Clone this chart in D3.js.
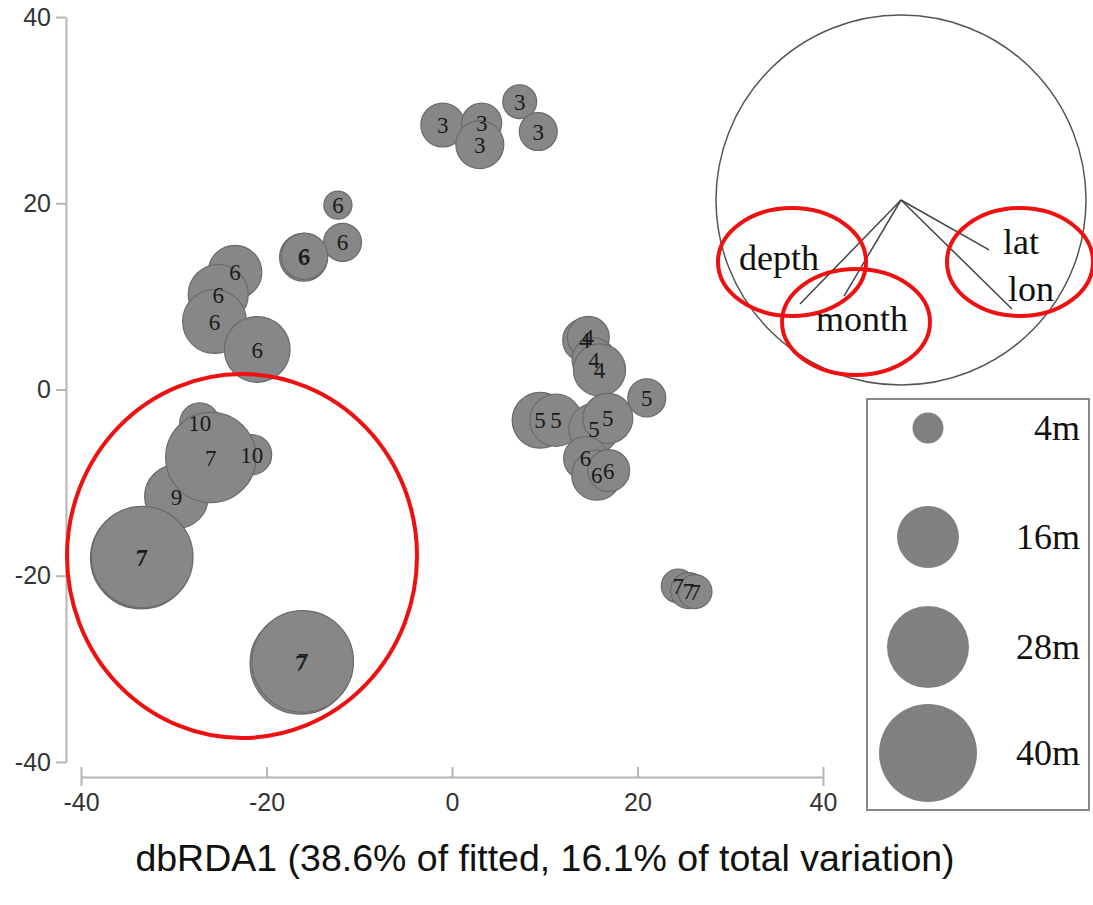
<!DOCTYPE html>
<html>
<head>
<meta charset="utf-8">
<script src="https://cdn.jsdelivr.net/npm/d3@7"></script>
<style>
  html, body { margin: 0; padding: 0; background: #fff; }
  svg { display: block; }
</style>
</head>
<body>
<svg id="chart" width="1093" height="905"></svg>
<script>
// ---------------- data ----------------
const monthLabels = ["3","3","3","3","3",
  "6","6","6","6","6","6","6","6",
  "4","4","4","4",
  "5","5","5","5","5",
  "6","6","6",
  "7","7","7",
  "10","10","9","7","7","7","7","7"];
const dbRDA1 = [-1.0, 3.2, 3.0, 7.3, 9.3,
  -12.3, -11.8, -16.0, -15.9, -23.4, -25.2, -25.6, -21.0,
  14.3, 14.7, 15.3, 15.9,
  21.0, 9.5, 11.2, 15.3, 16.8,
  14.4, 15.6, 16.9,
  24.4, 25.5, 26.2,
  -27.2, -21.6, -29.7, -26.0, -33.5, -33.4, -16.3, -16.1];
const dbRDA2 = [28.4, 28.6, 26.3, 30.9, 27.7,
  19.8, 15.8, 14.2, 14.3, 12.6, 10.2, 7.3, 4.3,
  5.3, 5.6, 3.2, 2.1,
  -0.9, -3.3, -3.3, -4.2, -3.1,
  -7.4, -9.2, -8.7,
  -21.1, -21.6, -21.7,
  -3.6, -7.0, -11.5, -7.3, -18.1, -18.0, -29.4, -29.2];
const depthM = [8, 6.7, 9.6, 4.8, 6,
  3.3, 6, 9.6, 9, 12, 15, 17, 18,
  8, 7.3, 8, 11.3,
  6, 13, 11.3, 10.4, 10.4,
  8, 10.4, 7.3,
  4.8, 5.4, 4.8,
  6.7, 6.7, 17, 34, 43, 43, 43, 43];

const xTicks = [-40, -20, 0, 20, 40];
const yTicks = [-40, -20, 0, 20, 40];
const axisTitle = "dbRDA1 (38.6% of fitted, 16.1% of total variation)";

// vector overlay (unit circle coordinates)
const vecNames = ["depth", "month", "lat", "lon"];
const vecX = [-0.546, -0.308, 0.476, 0.600];
const vecY = [-0.562, -0.519, -0.270, -0.589];

// bubble legend
const legendDepths = [4, 16, 28, 40];
const legendLabels = ["4m", "16m", "28m", "40m"];

// ---------------- drawing ----------------
const svg = d3.select("#chart");
const x = d3.scaleLinear().domain([-40, 40]).range([81, 823]);
const y = d3.scaleLinear().domain([-40, 40]).range([762, 17]);
const r = d3.scaleSqrt().domain([0, 40]).range([0, 49]);

const axisColor = "#b5b5b5";
const tickFont = "Liberation Sans, Arial, sans-serif";
const serif = "Liberation Serif, 'Times New Roman', serif";
const fmt = d => String(d);

// y axis
const gy = svg.append("g").attr("transform", "translate(66,0)")
  .call(d3.axisLeft(y).tickValues(yTicks).tickFormat(fmt).tickSizeInner(10).tickSizeOuter(0).tickPadding(5));
// x axis
const gx = svg.append("g").attr("transform", "translate(0,777)")
  .call(d3.axisBottom(x).tickValues(xTicks).tickFormat(fmt).tickSizeInner(-10).tickSizeOuter(9).tickPadding(16));
[gx, gy].forEach(g => {
  g.selectAll("path, line").attr("stroke", axisColor).attr("stroke-width", 2);
  g.selectAll("text").attr("fill", "#333").style("font-family", tickFont).style("font-size", "25px");
});

// axis title
svg.append("text")
  .attr("x", 545).attr("y", 871)
  .attr("text-anchor", "middle")
  .style("font-family", tickFont).style("font-size", "37.5px").attr("fill", "#111")
  .text(axisTitle);

// bubbles
const pts = monthLabels.map((m, i) => ({ m, x: dbRDA1[i], y: dbRDA2[i], d: depthM[i] }));
const gb = svg.append("g");
gb.selectAll("circle").data(pts).join("circle")
  .attr("cx", d => x(d.x)).attr("cy", d => y(d.y)).attr("r", d => r(d.d))
  .attr("fill", "#878787").attr("stroke", "#6a6a6a").attr("stroke-width", 1.2);
gb.selectAll("text").data(pts).join("text")
  .attr("x", d => x(d.x)).attr("y", d => y(d.y))
  .attr("dy", "0.35em").attr("text-anchor", "middle")
  .style("font-family", serif).style("font-size", "23px").attr("fill", "#1a1a1a")
  .text(d => d.m);

// vector inset
const vc = { cx: 901, cy: 200, R: 185 };
const vx = d3.scaleLinear().domain([-1, 1]).range([vc.cx - vc.R, vc.cx + vc.R]);
const vy = d3.scaleLinear().domain([-1, 1]).range([vc.cy + vc.R, vc.cy - vc.R]);
const gv = svg.append("g");
gv.append("circle").attr("cx", vc.cx).attr("cy", vc.cy).attr("r", vc.R)
  .attr("fill", "none").attr("stroke", "#555").attr("stroke-width", 1.5);
const vecs = vecNames.map((n, i) => ({ n, x: vecX[i], y: vecY[i] }));
gv.selectAll("line").data(vecs).join("line")
  .attr("x1", vx(0)).attr("y1", vy(0))
  .attr("x2", d => vx(d.x)).attr("y2", d => vy(d.y))
  .attr("stroke", "#444").attr("stroke-width", 1.5);
const labelOffsets = { depth: [-61, -34], month: [-28, 35], lat: [14, 4], lon: [-4, -8] };
gv.selectAll("text").data(vecs).join("text")
  .attr("x", d => vx(d.x) + labelOffsets[d.n][0])
  .attr("y", d => vy(d.y) + labelOffsets[d.n][1])
  .style("font-family", serif).style("font-size", "36px").attr("fill", "#111")
  .text(d => d.n);

// legend
const gl = svg.append("g");
gl.append("rect").attr("x", 867).attr("y", 399).attr("width", 222).attr("height", 411)
  .attr("fill", "#fff").attr("stroke", "#888").attr("stroke-width", 2);
const legY = [428, 537, 647, 753];
gl.selectAll("circle").data(legendDepths).join("circle")
  .attr("cx", 928).attr("cy", (d, i) => legY[i]).attr("r", d => r(d))
  .attr("fill", "#808080");
gl.selectAll("text").data(legendLabels).join("text")
  .attr("x", 1080).attr("y", (d, i) => legY[i] + 12)
  .attr("text-anchor", "end")
  .style("font-family", serif).style("font-size", "36px").attr("fill", "#111")
  .text(d => d);

// red annotation ellipses
const ga = svg.append("g").attr("fill", "none").attr("stroke", "#ee1111").attr("stroke-width", 4);
ga.append("ellipse").attr("cx", 242).attr("cy", 556).attr("rx", 175).attr("ry", 182);
ga.append("ellipse").attr("cx", 792).attr("cy", 262).attr("rx", 74).attr("ry", 54);
ga.append("ellipse").attr("cx", 856).attr("cy", 322).attr("rx", 74).attr("ry", 53);
ga.append("ellipse").attr("cx", 1020).attr("cy", 262).attr("rx", 73).attr("ry", 54);
</script>
</body>
</html>
